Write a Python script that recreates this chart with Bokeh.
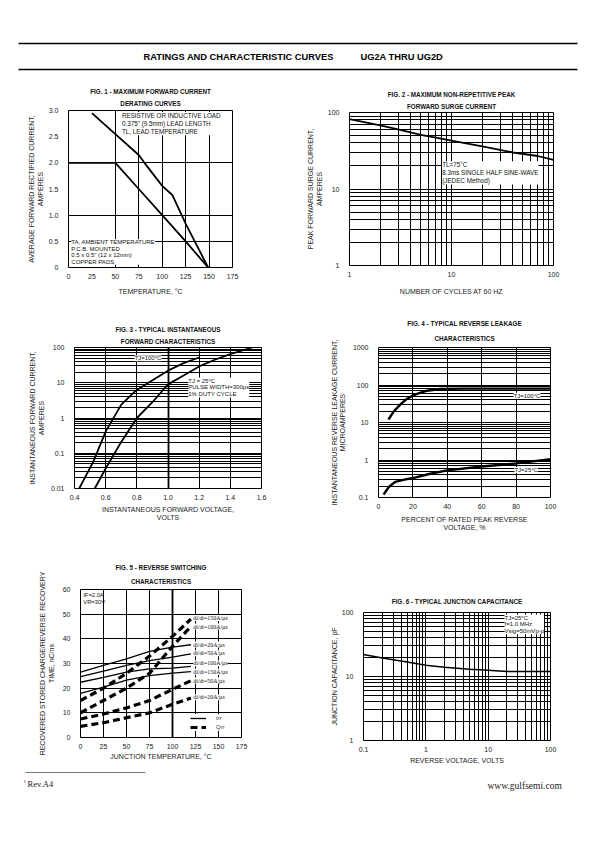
from bokeh.plotting import figure
from bokeh.models import (Range1d, FixedTicker, CustomJSTickFormatter, Label, LabelSet,
                          Grid, Legend, LegendItem, ColumnDataSource, Title)
from bokeh.layouts import column, row
from bokeh.embed import file_html
from bokeh.resources import INLINE

FONT = "Liberation Sans"

# ---------------- data ----------------
# Fig 1 - derating
fig1_temp_lead = [25, 50, 75, 81, 100, 111, 125, 149]
fig1_curr_lead = [2.95, 2.55, 2.15, 2.0, 1.56, 1.38, 0.84, 0.0]
fig1_temp_amb = [0, 50, 75, 100, 125, 149]
fig1_curr_amb = [2.0, 2.0, 1.5, 1.0, 0.5, 0.0]
fig1_xticks = [0, 25, 50, 75, 100, 125, 150, 175]
fig1_yticks = [0, 0.5, 1.0, 1.5, 2.0, 2.5, 3.0]

# Fig 2 - surge current
fig2_cycles = [1, 2, 3, 5, 7, 10, 20, 40, 70, 100]
fig2_surge = [82, 68, 60, 51, 47, 43, 36, 30, 27, 24]
fig2_ticks = [1, 10, 100]

# Fig 3 - forward characteristics
fig3_v100 = [0.43, 0.52, 0.60, 0.70, 0.79, 0.89, 1.0, 1.1, 1.2]
fig3_i100 = [0.01, 0.057, 0.41, 2.4, 5.8, 11, 22, 36, 52]
fig3_v25 = [0.53, 0.6, 0.7, 0.8, 0.9, 1.0, 1.1, 1.2, 1.3, 1.4, 1.54]
fig3_i25 = [0.01, 0.037, 0.21, 1.0, 2.8, 9, 16, 29, 45, 65, 100]
fig3_xticks = [0.4, 0.6, 0.8, 1.0, 1.2, 1.4, 1.6]
fig3_yticks = [0.01, 0.1, 1, 10, 100]

# Fig 4 - reverse leakage
fig4_pct100 = [5.8, 9, 12.6, 16, 19.4, 24, 28, 36, 50, 100]
fig4_i100 = [12, 20, 30, 41, 51, 62, 70, 78, 80, 80]
fig4_pct25 = [3, 6, 9.7, 15, 20, 30, 40, 60, 80, 100]
fig4_i25 = [0.12, 0.19, 0.26, 0.3, 0.33, 0.43, 0.53, 0.67, 0.81, 1.05]
fig4_xticks = [0, 20, 40, 60, 80, 100]
fig4_yticks = [0.1, 1, 10, 100, 1000]

# Fig 5 - reverse switching
fig5_temp = [0, 25, 50, 75, 100, 120]
fig5_trr_20 = [26.5, 29.2, 31.9, 34.9, 36.6, 37.6]
fig5_trr_50 = [24.7, 26.9, 29.2, 31.2, 32.6, 33.9]
fig5_trr_100 = [22.4, 24.4, 26.5, 27.8, 28.1, 28.8]
fig5_trr_150 = [17.9, 20.4, 23.3, 25.1, 26.1, 26.7]
fig5_qrr_150 = [15, 20, 26, 33, 41, 48]
fig5_qrr_100 = [10, 15, 20, 26, 37, 45]
fig5_qrr_50 = [7.5, 9.5, 12, 15, 19.5, 23]
fig5_qrr_20 = [4.5, 6, 8, 10, 13.5, 16]
fig5_labels = ["di/dt=150A/µs", "di/dt=100A/µs", "di/dt=20A/µs", "di/dt=50A/µs",
               "di/dt=100A/µs", "di/dt=150A/µs", "di/dt=50A/µs", "di/dt=20A/µs"]
fig5_label_y = [48.4, 45.0, 37.7, 34.2, 30.1, 26.7, 23.1, 16.3]
fig5_xticks = [0, 25, 50, 75, 100, 125, 150, 175]
fig5_yticks = [0, 10, 20, 30, 40, 50, 60]

# Fig 6 - junction capacitance
fig6_vr = [0.1, 0.2, 0.5, 1, 2, 5, 10, 20, 50, 100]
fig6_cj = [22, 19.5, 16.8, 15, 14, 13, 12.5, 12, 12, 12]
fig6_xticks = [0.1, 1, 10, 100]
fig6_yticks = [1, 10, 100]


def log_minor(lo_exp, hi_exp):
    out = []
    for e in range(lo_exp, hi_exp):
        for m in range(2, 10):
            out.append(m * 10.0 ** e)
    return out


def base_fig(w, h, l, r, t, b, xr, yr, xt="linear", yt="linear", title_lines=(), tstand=6):
    p = figure(width=w, height=h, x_range=xr, y_range=yr, x_axis_type=xt, y_axis_type=yt,
               output_backend="svg", toolbar_location=None,
               min_border_left=l, min_border_right=r, min_border_top=t, min_border_bottom=b,
               title=None)
    first = True
    for line in reversed(title_lines):
        p.add_layout(Title(text=line, align="center", text_font=FONT, text_font_size="6.3px",
                           text_font_style="bold", text_color="#111", text_line_height=0.75,
                           standoff=tstand if first else 0), "above")
        first = False
    p.outline_line_color = "black"
    p.outline_line_width = 1
    p.outline_line_alpha = 1
    p.background_fill_color = "white"
    p.border_fill_color = "white"
    for ax in p.axis:
        ax.axis_line_color = None
        ax.major_tick_line_color = None
        ax.minor_tick_line_color = None
        ax.major_label_text_font = FONT
        ax.major_label_text_font_size = "7px"
        ax.major_label_text_color = "#222"
        ax.axis_label_text_font = FONT
        ax.axis_label_text_font_size = "7px"
        ax.axis_label_text_font_style = "normal"
        ax.axis_label_text_color = "#222"
    p.yaxis.major_label_standoff = 4
    p.xaxis.major_label_standoff = 0
    p.grid.grid_line_color = "black"
    p.grid.grid_line_width = 1
    p.grid.grid_line_alpha = 1
    return p


def box_label(p, x, y, text, size="6px", bg=True, lh=1.15):
    lab = Label(x=x, y=y, text=text, text_font=FONT, text_font_size=size,
                text_color="#111", text_baseline="top", text_align="left",
                text_line_height=lh)
    if bg:
        lab.background_fill_color = "white"
        lab.background_fill_alpha = 1
    p.add_layout(lab)


fmt_plain = CustomJSTickFormatter(code="return tick.toString();")
fmt_1dec0 = CustomJSTickFormatter(code="return tick == 0 ? '0' : tick.toFixed(1);")
fmt_1dec = CustomJSTickFormatter(code="return tick.toFixed(1);")

# ---------------- header ----------------
hdr = figure(width=587, height=80, x_range=Range1d(0, 587), y_range=Range1d(80, 0),
             output_backend="svg", toolbar_location=None, min_border=0,
             x_axis_location=None, y_axis_location=None)
hdr.grid.visible = False
hdr.outline_line_color = None
hdr_rule_x0 = [18, 18]
hdr_rule_x1 = [577, 577]
hdr_rule_y = [43, 69]
hdr.segment(x0=hdr_rule_x0, y0=hdr_rule_y, x1=hdr_rule_x1, y1=hdr_rule_y, line_color="black", line_width=1.3)
for tx, txt in [(143, "RATINGS AND CHARACTERISTIC CURVES"), (360, "UG2A THRU UG2D")]:
    hdr.add_layout(Label(x=tx, y=56, text=txt, text_font=FONT, text_font_size="9.3px",
                         text_font_style="bold", text_baseline="middle", text_color="black"))

# ---------------- Fig 1 ----------------
f1 = base_fig(300, 230, 68, 68, 30, 43, Range1d(0, 175), Range1d(0, 3.0),
              title_lines=["FIG. 1 - MAXIMUM FORWARD CURRENT", "DERATING CURVES"], tstand=7)
f1.xaxis.ticker = FixedTicker(ticks=fig1_xticks)
f1.yaxis.ticker = FixedTicker(ticks=fig1_yticks)
f1.yaxis.formatter = fmt_1dec0
f1.xgrid.ticker = FixedTicker(ticks=[50, 75, 100, 125, 150])
f1.ygrid.ticker = FixedTicker(ticks=[0.5, 1.0, 2.0])
f1.xaxis.axis_label = "TEMPERATURE, °C"
f1.yaxis.axis_label = "AVERAGE FORWARD RECTIFIED CURRENT,\nAMPERES"
f1.yaxis.axis_label_standoff = 2
f1.xaxis.axis_label_standoff = 6
box_label(f1, 57, 2.97, "RESISTIVE OR INDUCTIVE LOAD\n0.375\" (9.5mm) LEAD LENGTH\nTL, LEAD TEMPERATURE", "6.3px")
box_label(f1, 3, 0.54, "TA, AMBIENT TEMPERATURE\nP.C.B. MOUNTED\n0.5 x 0.5\" (12 x 12mm)\nCOPPER PADS", "6px", lh=1.08)
f1.line(fig1_temp_lead, fig1_curr_lead, line_color="black", line_width=1.8)
f1.line(fig1_temp_amb, fig1_curr_amb, line_color="black", line_width=1.8)

# ---------------- Fig 2 ----------------
f2 = base_fig(287, 230, 49, 34, 32, 45, Range1d(1, 100), Range1d(1, 100), xt="log", yt="log",
              title_lines=["FIG. 2 - MAXIMUM NON-REPETITIVE PEAK", "FORWARD SURGE CURRENT"], tstand=6)
f2.xaxis.ticker = FixedTicker(ticks=fig2_ticks)
f2.yaxis.ticker = FixedTicker(ticks=fig2_ticks)
f2.xaxis.formatter = fmt_plain
f2.yaxis.formatter = fmt_plain
f2.xgrid.ticker = FixedTicker(ticks=log_minor(0, 2) + [10])
f2.ygrid.ticker = FixedTicker(ticks=log_minor(0, 2) + [10])
f2.xaxis.axis_label = "NUMBER OF CYCLES AT 60 HZ"
f2.yaxis.axis_label = "PEAK FORWARD SURGE CURRENT,\nAMPERES"
f2.yaxis.axis_label_standoff = 2
f2.xaxis.axis_label_standoff = 8
box_label(f2, 8.1, 23, "TL=75°C\n8.3ms SINGLE HALF SINE-WAVE\n(JEDEC Method)", "6.3px")
f2.line(fig2_cycles, fig2_surge, line_color="black", line_width=1.8)

# ---------------- Fig 3 ----------------
f3 = base_fig(300, 230, 74, 39, 37, 52, Range1d(0.4, 1.6), Range1d(0.01, 100), xt="linear", yt="log",
              title_lines=["FIG. 3 - TYPICAL INSTANTANEOUS", "FORWARD CHARACTERISTICS"], tstand=6)
f3.xaxis.ticker = FixedTicker(ticks=fig3_xticks)
f3.yaxis.ticker = FixedTicker(ticks=fig3_yticks)
f3.xaxis.formatter = fmt_1dec
f3.yaxis.formatter = fmt_plain
f3.xgrid.ticker = FixedTicker(ticks=[0.6, 0.8, 1.2, 1.4])
f3.ygrid.ticker = FixedTicker(ticks=log_minor(-2, 2) + [0.1, 1, 10])
f3.add_layout(Grid(dimension=0, ticker=FixedTicker(ticks=[1.0]), grid_line_color="black", grid_line_width=1.8))
f3.xaxis.axis_label = "INSTANTANEOUS FORWARD VOLTAGE,\nVOLTS"
f3.yaxis.axis_label = "INSTANTANEOUS FORWARD CURRENT,\nAMPERES"
f3.yaxis.axis_label_standoff = 3
f3.xaxis.axis_label_standoff = 3
box_label(f3, 0.785, 60, "TJ=100°C", "6px")
box_label(f3, 1.13, 14, "TJ = 25°C\nPULSE WIDTH=300µs\n1% DUTY CYCLE", "6px")
f3.line(fig3_v100, fig3_i100, line_color="black", line_width=1.8)
f3.line(fig3_v25, fig3_i25, line_color="black", line_width=1.8)

# ---------------- Fig 4 ----------------
f4 = base_fig(287, 230, 78, 37, 37, 43, Range1d(0, 100), Range1d(0.1, 1000), xt="linear", yt="log",
              title_lines=["FIG. 4 - TYPICAL REVERSE LEAKAGE", "CHARACTERISTICS"], tstand=12)
f4.xaxis.ticker = FixedTicker(ticks=fig4_xticks)
f4.yaxis.ticker = FixedTicker(ticks=fig4_yticks)
f4.yaxis.formatter = fmt_plain
f4.xgrid.ticker = FixedTicker(ticks=[20, 40, 60, 80])
f4.ygrid.ticker = FixedTicker(ticks=log_minor(-1, 3) + [1, 10, 100])
f4.xaxis.axis_label = "PERCENT OF RATED PEAK REVERSE\nVOLTAGE, %"
f4.yaxis.axis_label = "INSTANTANEOUS REVERSE LEAKAGE CURRENT,\nMICROAMPERES"
f4.yaxis.axis_label_standoff = 4
f4.xaxis.axis_label_standoff = 4
box_label(f4, 78.5, 62, "TJ=100°C", "6px")
box_label(f4, 79, 0.65, "TJ=25°C", "6px")
f4.line(fig4_pct100, fig4_i100, line_color="black", line_width=2.4)
f4.line(fig4_pct25, fig4_i25, line_color="black", line_width=2.4)

# ---------------- Fig 5 ----------------
f5 = base_fig(300, 228, 80, 59, 49, 31, Range1d(0, 175), Range1d(0, 60),
              title_lines=["FIG. 5 - REVERSE SWITCHING", "CHARACTERISTICS"], tstand=10)
f5.xaxis.ticker = FixedTicker(ticks=fig5_xticks)
f5.yaxis.ticker = FixedTicker(ticks=fig5_yticks)
f5.xgrid.ticker = FixedTicker(ticks=[25, 50, 75, 125, 150])
f5.ygrid.ticker = FixedTicker(ticks=[10, 20, 30, 40, 50])
f5.add_layout(Grid(dimension=0, ticker=FixedTicker(ticks=[100]), grid_line_color="black", grid_line_width=1.8))
f5.xaxis.axis_label = "JUNCTION TEMPERATURE, °C"
f5.yaxis.axis_label = "RECOVERED STORED CHARGE/REVERSE RECOVERY\nTIME, nC/ns"
f5.yaxis.axis_label_standoff = 5
f5.xaxis.axis_label_standoff = 1
box_label(f5, 3, 58.8, "IF=2.0A\nVR=30V", "5.8px", bg=False)
trr_series = [fig5_trr_20, fig5_trr_50, fig5_trr_100, fig5_trr_150]
qrr_series = [fig5_qrr_150, fig5_qrr_100, fig5_qrr_50, fig5_qrr_20]
trr_r = [f5.line(fig5_temp, s, line_color="black", line_width=1.3) for s in trr_series]
qrr_r = [f5.line(fig5_temp, s, line_color="black", line_width=3.2, line_dash="7 4") for s in qrr_series]
lab_src = ColumnDataSource(dict(x=[122.5] * len(fig5_labels), y=fig5_label_y, t=fig5_labels))
f5.add_layout(LabelSet(x="x", y="y", text="t", source=lab_src, text_font=FONT, text_font_size="5.9px",
                       text_baseline="middle", text_color="#111", background_fill_color="white"))
leg = Legend(items=[LegendItem(label="trr", renderers=[trr_r[0]]),
                    LegendItem(label="Qrr", renderers=[qrr_r[0]])],
             location=(110, 6), label_text_font=FONT, label_text_font_size="6px",
             glyph_width=16, glyph_height=8, label_height=8, label_standoff=10, spacing=1,
             padding=3, margin=0, border_line_color=None, background_fill_alpha=1)
f5.add_layout(leg)

# ---------------- Fig 6 ----------------
f6 = base_fig(287, 228, 63, 37, 72, 28, Range1d(0.1, 100), Range1d(1, 100), xt="log", yt="log",
              title_lines=["FIG. 6 - TYPICAL JUNCTION CAPACITANCE"], tstand=16)
f6.xaxis.ticker = FixedTicker(ticks=fig6_xticks)
f6.yaxis.ticker = FixedTicker(ticks=fig6_yticks)
f6.xaxis.formatter = fmt_plain
f6.yaxis.formatter = fmt_plain
f6.xgrid.ticker = FixedTicker(ticks=log_minor(-1, 2) + [1, 10])
f6.ygrid.ticker = FixedTicker(ticks=log_minor(0, 2) + [10])
f6.xaxis.axis_label = "REVERSE VOLTAGE, VOLTS"
f6.yaxis.axis_label = "JUNCTION CAPACITANCE, pF"
f6.yaxis.axis_label_standoff = 1
f6.xaxis.axis_label_standoff = 2
box_label(f6, 18.3, 93, "TJ=25°C\nf=1.0 MHz\nVsig=50mVp-p", "6px")
f6.line(fig6_vr, fig6_cj, line_color="black", line_width=1.5)

# ---------------- footer ----------------
ftr = figure(width=587, height=40, x_range=Range1d(0, 587), y_range=Range1d(40, 0),
             output_backend="svg", toolbar_location=None, min_border=0,
             x_axis_location=None, y_axis_location=None)
ftr.grid.visible = False
ftr.outline_line_color = None
ftr.segment(x0=[25], y0=[4], x1=[145], y1=[4], line_color="#777", line_width=1)
ftr.add_layout(Label(x=23, y=13, text="1", text_font="Liberation Serif", text_font_size="5px",
                     text_baseline="middle", text_color="#333"))
ftr.add_layout(Label(x=27, y=15, text="Rev.A4", text_font="Liberation Serif", text_font_size="8.5px",
                     text_baseline="middle", text_color="#222"))
ftr.add_layout(Label(x=487, y=17, text="www.gulfsemi.com", text_font="Liberation Serif",
                     text_font_size="9.5px", text_baseline="middle", text_color="#222"))

# each figure wrapped in its own column so frames are not aligned across a row
r1 = row(column(f1), column(f2))
r2 = row(column(f3), column(f4))
r3 = row(column(f5), column(f6))
layout = column(hdr, r1, r2, r3, ftr)
open("out.html", "w").write(file_html(layout, INLINE))
